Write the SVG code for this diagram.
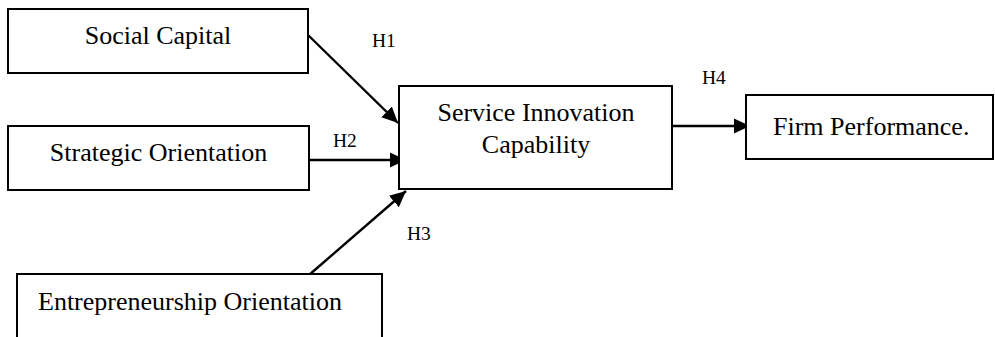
<svg xmlns="http://www.w3.org/2000/svg" width="995" height="337" viewBox="0 0 995 337">
<style>
  .box { fill: #ffffff; stroke: #000000; stroke-width: 2; }
  .lbl { font-family: "Liberation Serif", "Times New Roman", serif; font-size: 26px; fill: #000000; }
  .h { font-family: "Liberation Serif", "Times New Roman", serif; font-size: 19.5px; fill: #000000; }
  .conn { stroke: #000000; stroke-width: 2.4; fill: none; marker-end: url(#arrow); }
</style>
<defs>
  <marker id="arrow" markerUnits="userSpaceOnUse" markerWidth="17" markerHeight="17" refX="16" refY="8" orient="auto">
    <path d="M0,0.5 L16,8 L0,15.5 z" fill="#000000"/>
  </marker>
</defs>
<rect width="995" height="337" fill="#ffffff"/>
<g id="connectors">
  <path class="conn" d="M308,35 L398,123"/>
  <path class="conn" d="M309,160 L406,160"/>
  <path class="conn" d="M309,275 L406,191"/>
  <path class="conn" d="M672,126 L750,126"/>
  <text class="h" x="372" y="47">H1</text>
  <text class="h" x="333" y="147">H2</text>
  <text class="h" x="407" y="240">H3</text>
  <text class="h" x="702" y="84">H4</text>
</g>
<g id="social-capital">
  <rect class="box" x="8" y="9" width="300" height="64"/>
  <text class="lbl" x="158" y="44" text-anchor="middle">Social Capital</text>
</g>
<g id="strategic-orientation">
  <rect class="box" x="8" y="126" width="301" height="64"/>
  <text class="lbl" x="158.5" y="161" text-anchor="middle">Strategic Orientation</text>
</g>
<g id="entrepreneurship-orientation">
  <rect class="box" x="17" y="274" width="365" height="90"/>
  <text class="lbl" x="38" y="310">Entrepreneurship Orientation</text>
</g>
<g id="service-innovation-capability">
  <rect class="box" x="399" y="86" width="273" height="103"/>
  <text class="lbl" x="536" y="121" text-anchor="middle">Service Innovation</text>
  <text class="lbl" x="536" y="153" text-anchor="middle">Capability</text>
</g>
<g id="firm-performance">
  <rect class="box" x="746" y="95" width="247" height="64"/>
  <text class="lbl" x="773" y="135">Firm Performance.</text>
</g>
</svg>
